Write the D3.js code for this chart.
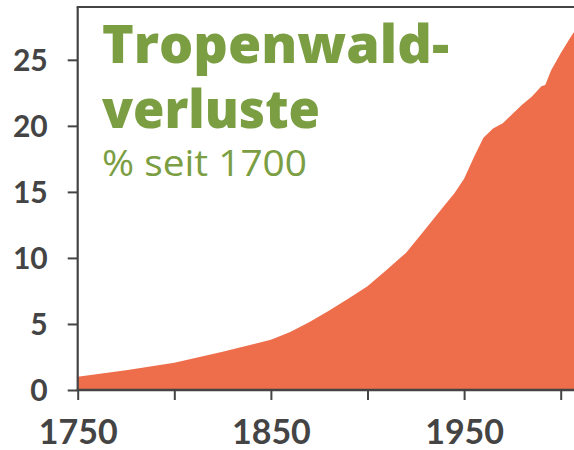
<!DOCTYPE html>
<html>
<head>
<meta charset="utf-8">
<script src="https://cdn.jsdelivr.net/npm/d3@7"></script>
<style>
  html, body { margin: 0; padding: 0; background: #fff; overflow: hidden; }
  svg { display: block; }
</style>
</head>
<body>
<svg id="chart" width="574" height="450"></svg>
<script>
// Jahre und Verluste (% seit 1700)
const years = [1750, 1775, 1800, 1825, 1850, 1860, 1870, 1880, 1890, 1900, 1910, 1920, 1930, 1940, 1945,
               1950, 1955, 1960, 1965, 1970, 1975, 1980, 1985, 1990, 1992, 1995, 2000, 2005, 2010]
const losses = [1.0, 1.5, 2.07, 2.9, 3.8, 4.4, 5.15, 6.0, 6.9, 7.85, 9.1, 10.4, 12.2, 14.0, 14.9,
                16.0, 17.6, 19.1, 19.8, 20.2, 20.9, 21.6, 22.2, 23.0, 23.1, 24.2, 25.5, 26.7, 27.8]
const yTicks = [0, 5, 10, 15, 20, 25]
const xLabelTicks = [1750, 1850, 1950]
const xTicks = [1750, 1800, 1850, 1900, 1950, 2000]
const titleLines = ["Tropenwald-", "verluste"]
const subtitle = "% seit 1700"

const svg = d3.select("#chart"),
      width = 574,
      mLeft = 77.7,   // linke Achse
      mTop = 7,       // obere Linie
      mBottom = 390,  // x-Achse
      axisColor = "#444",
      green = "#7b9e43",
      fill = "#ee6d4b"

const x = d3.scaleLinear().domain([1750, 2010]).range([mLeft, mLeft + 260 * 1.932])
const y = d3.scaleLinear().domain([0, 29]).range([mBottom, mTop])

const data = years.map((yr, i) => ({ year: yr, v: losses[i] }))

const area = d3.area()
  .x(d => x(d.year))
  .y0(y(0))
  .y1(d => y(d.v))

svg.append("path")
  .datum(data)
  .attr("d", area)
  .attr("fill", fill)

// y-Achse
const yAxis = svg.append("g")
  .attr("transform", `translate(${mLeft},0)`)
  .call(d3.axisLeft(y).tickValues(yTicks).tickSize(10).tickPadding(20).tickSizeOuter(0))
yAxis.select(".domain").remove()
yAxis.selectAll("line").attr("stroke", axisColor).attr("stroke-width", 2)
yAxis.selectAll("text")
  .attr("fill", axisColor)
  .style("font-family", "Lato, 'Open Sans', sans-serif")
  .style("font-weight", "bold")
  .style("font-size", "30px")
  .attr("dy", "0.36em")

// x-Achse
const xAxis = svg.append("g")
  .attr("transform", `translate(0,${mBottom})`)
  .call(d3.axisBottom(x).tickValues(xTicks).tickSize(10).tickSizeOuter(0)
    .tickFormat(d => xLabelTicks.includes(d) ? d : ""))
xAxis.select(".domain").remove()
xAxis.selectAll("line").attr("stroke", axisColor).attr("stroke-width", 2)
xAxis.selectAll("text")
  .attr("fill", axisColor)
  .attr("y", 54)
  .attr("dy", 0)
  .style("font-family", "Lato, 'Open Sans', sans-serif")
  .style("font-weight", "bold")
  .style("font-size", "34px")

// Rahmenlinien: links, oben, unten
svg.append("line")
  .attr("x1", mLeft).attr("x2", mLeft).attr("y1", mTop).attr("y2", mBottom + 1)
  .attr("stroke", axisColor).attr("stroke-width", 2.2)
svg.append("line")
  .attr("x1", mLeft - 1).attr("x2", width).attr("y1", mTop).attr("y2", mTop)
  .attr("stroke", axisColor).attr("stroke-width", 2)
svg.append("line")
  .attr("x1", mLeft - 1).attr("x2", width).attr("y1", mBottom).attr("y2", mBottom)
  .attr("stroke", axisColor).attr("stroke-width", 2.5)

// Titel
const title = svg.append("g").attr("fill", green)
title.append("text")
  .attr("x", 102).attr("y", 63)
  .attr("textLength", 347).attr("lengthAdjust", "spacingAndGlyphs")
  .style("font-family", "'Open Sans', sans-serif")
  .style("font-weight", 800)
  .style("font-size", "53px")
  .text(titleLines[0])
title.append("text")
  .attr("x", 102).attr("y", 128)
  .attr("textLength", 218).attr("lengthAdjust", "spacingAndGlyphs")
  .style("font-family", "'Open Sans', sans-serif")
  .style("font-weight", 800)
  .style("font-size", "53px")
  .text(titleLines[1])
title.append("text")
  .attr("x", 102).attr("y", 176)
  .attr("textLength", 205).attr("lengthAdjust", "spacingAndGlyphs")
  .style("font-family", "'Open Sans', sans-serif")
  .style("font-weight", 400)
  .style("font-size", "36px")
  .text(subtitle)
</script>
</body>
</html>
